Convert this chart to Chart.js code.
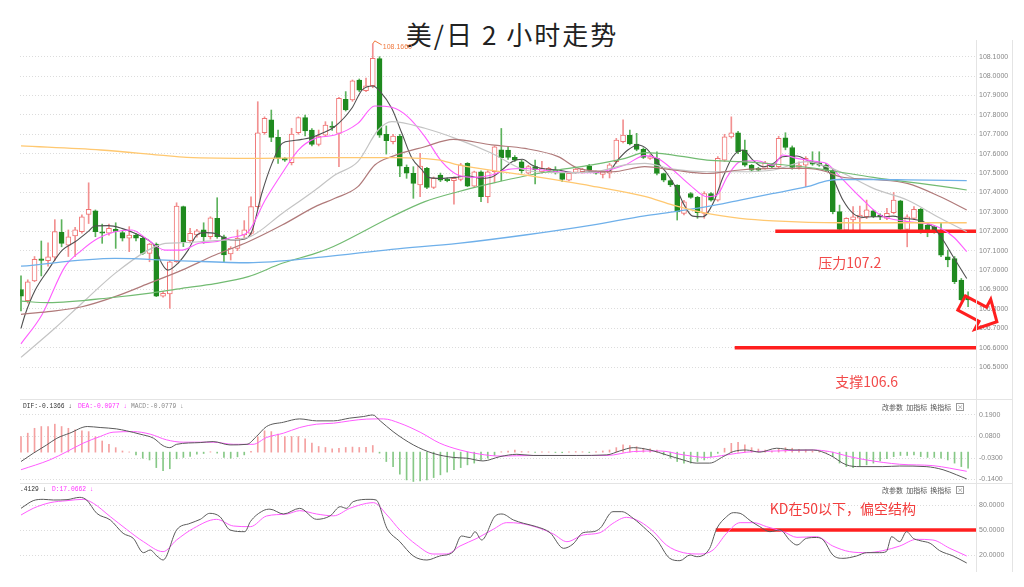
<!DOCTYPE html>
<html>
<head>
<meta charset="utf-8">
<script src="https://cdn.jsdelivr.net/npm/chart.js"></script>
<style>
body{margin:0;background:#fff;width:1024px;height:587px;overflow:hidden;position:relative;font-family:"Noto Sans CJK SC",sans-serif}
canvas{position:absolute;left:0}
#title{position:absolute;left:0;width:1024px;top:18px;text-align:center;font-size:26px;line-height:32px;color:#222;letter-spacing:2px}
.hl{position:absolute;left:20px;width:992px;border-top:1px solid #e4e4e4}
.vl{position:absolute;top:40px;height:532px;border-left:1px solid #e4e4e4}
.hd{position:absolute;font:6.3px "Liberation Mono",monospace;line-height:8px;white-space:pre}
.tool{position:absolute;font-size:7px;line-height:8px;color:#555;white-space:pre}
.box{display:inline-block;width:6px;height:6px;border:1px solid #999;font-size:6px;line-height:6px;text-align:center;color:#777;margin-left:5px;vertical-align:top}
</style>
</head>
<body>
<div id="title">美/日 2 小时走势</div>
<canvas id="main" width="1024" height="359" style="top:40px"></canvas>
<canvas id="macd" width="1024" height="84" style="top:399px"></canvas>
<canvas id="kd" width="1024" height="89" style="top:483px"></canvas>
<div class="hl" style="top:399px"></div>
<div class="hl" style="top:483px"></div>
<div class="vl" style="left:976px"></div>
<div class="vl" style="left:1012px"></div>

<div class="hd" style="left:23px;top:403px;color:#333">DIF:-0.1366 ↓</div>
<div class="hd" style="left:78px;top:403px;color:#ff33ff">DEA:-0.0977 ↓</div>
<div class="hd" style="left:131px;top:403px;color:#888">MACD:-0.0779 ↓</div>
<div class="tool" style="left:882px;top:403px">改参数  加指标  换指标<span class="box">×</span></div>

<div class="hd" style="left:20px;top:486px;color:#333">.4129 ↓</div>
<div class="hd" style="left:52px;top:486px;color:#ff33ff">D:17.0662 ↓</div>
<div class="tool" style="left:882px;top:486px">改参数  加指标  换指标<span class="box">×</span></div>

<script>
// 2-hour USD/JPY candles, one value per bar
const open = [106.900,106.842,106.944,107.055,107.048,107.066,107.195,107.129,107.176,107.198,
  107.287,107.306,107.196,107.190,107.210,107.193,107.164,107.181,107.164,107.086,
  107.134,106.866,106.877,107.043,107.327,107.152,107.181,107.207,107.172,107.267,
  107.172,107.083,107.112,107.181,107.189,107.327,107.708,107.774,107.684,107.576,
  107.554,107.708,107.786,107.722,107.648,107.696,107.740,107.705,107.880,107.877,
  107.980,107.925,107.950,108.090,107.700,107.662,107.691,107.530,107.499,107.439,
  107.524,107.426,107.490,107.469,107.461,107.468,107.550,107.433,107.507,107.378,
  107.507,107.620,107.619,107.581,107.558,107.499,107.533,107.507,107.512,107.516,
  107.502,107.464,107.504,107.507,107.536,107.507,107.493,107.499,107.559,107.662,
  107.696,107.650,107.622,107.576,107.576,107.498,107.461,107.438,107.292,107.395,
  107.375,107.292,107.395,107.361,107.567,107.687,107.708,107.619,107.541,107.525,
  107.524,107.541,107.533,107.682,107.632,107.529,107.541,107.558,107.553,107.541,
  107.515,107.301,107.206,107.258,107.268,107.275,107.306,107.283,107.267,107.296,
  107.357,107.210,107.267,107.313,107.232,107.223,107.189,107.069,107.060,106.949,
  106.859]
const high = [106.97,106.95,107.07,107.15,107.14,107.26,107.26,107.207,107.22,107.285,
  107.45,107.31,107.237,107.237,107.244,107.20,107.224,107.19,107.17,107.138,
  107.14,106.89,107.05,107.347,107.33,107.215,107.21,107.244,107.275,107.373,
  107.181,107.121,107.207,107.255,107.378,107.868,107.79,107.825,107.722,107.58,
  107.731,107.79,107.799,107.73,107.722,107.765,107.765,107.89,107.92,107.98,
  107.985,107.99,108.166,108.10,107.743,107.70,107.70,107.542,107.533,107.602,
  107.53,107.48,107.50,107.475,107.48,107.55,107.554,107.51,107.512,107.512,
  107.64,107.73,107.636,107.59,107.567,107.54,107.567,107.56,107.53,107.533,
  107.505,107.50,107.53,107.525,107.545,107.51,107.51,107.55,107.679,107.774,
  107.722,107.705,107.63,107.595,107.61,107.50,107.465,107.44,107.36,107.40,
  107.38,107.404,107.40,107.585,107.70,107.79,107.715,107.67,107.545,107.53,
  107.56,107.545,107.69,107.708,107.64,107.558,107.585,107.61,107.61,107.55,
  107.52,107.335,107.27,107.327,107.33,107.361,107.31,107.29,107.318,107.40,
  107.36,107.285,107.327,107.318,107.24,107.23,107.241,107.103,107.07,106.957,
  106.888]
const low = [106.79,106.83,106.94,106.97,107.02,107.05,107.12,107.07,107.07,107.19,
  107.24,107.172,107.138,107.18,107.112,107.15,107.095,107.15,107.08,107.043,
  106.863,106.86,106.803,107.04,107.121,107.14,107.17,107.138,107.16,107.164,
  107.043,107.052,107.10,107.16,107.18,107.318,107.70,107.662,107.55,107.56,
  107.542,107.70,107.691,107.64,107.64,107.69,107.72,107.533,107.82,107.87,
  107.92,107.92,107.94,107.684,107.598,107.65,107.481,107.473,107.37,107.378,
  107.42,107.42,107.456,107.455,107.34,107.46,107.43,107.43,107.353,107.347,
  107.45,107.46,107.57,107.56,107.50,107.495,107.444,107.50,107.505,107.495,
  107.456,107.46,107.50,107.50,107.51,107.495,107.475,107.475,107.55,107.655,
  107.645,107.615,107.575,107.57,107.49,107.455,107.43,107.258,107.285,107.37,
  107.267,107.267,107.355,107.355,107.56,107.68,107.60,107.535,107.51,107.51,
  107.52,107.528,107.528,107.62,107.52,107.52,107.43,107.54,107.535,107.51,
  107.29,107.20,107.20,107.20,107.20,107.265,107.27,107.26,107.26,107.29,
  107.20,107.12,107.26,107.19,107.172,107.19,107.069,107.017,106.93,106.84,
  106.811]
const close = [106.866,106.94,107.055,107.05,107.069,107.198,107.138,107.172,107.207,107.275,
  107.313,107.198,107.19,107.215,107.20,107.164,107.181,107.164,107.086,107.134,
  106.866,106.88,107.043,107.33,107.146,107.189,107.203,107.172,107.27,107.172,
  107.078,107.112,107.164,107.207,107.327,107.708,107.782,107.684,107.576,107.567,
  107.701,107.786,107.717,107.648,107.691,107.748,107.735,107.885,107.825,107.976,
  107.928,107.95,108.091,107.696,107.667,107.691,107.536,107.499,107.447,107.536,
  107.426,107.473,107.464,107.461,107.473,107.542,107.433,107.507,107.378,107.507,
  107.636,107.58,107.581,107.567,107.512,107.533,107.516,107.525,107.524,107.502,
  107.468,107.499,107.521,107.519,107.516,107.499,107.507,107.542,107.67,107.696,
  107.65,107.622,107.581,107.585,107.498,107.464,107.439,107.30,107.352,107.375,
  107.296,107.395,107.361,107.576,107.687,107.708,107.61,107.541,107.515,107.515,
  107.553,107.533,107.679,107.632,107.529,107.541,107.576,107.546,107.541,107.515,
  107.301,107.21,107.267,107.275,107.283,107.31,107.275,107.275,107.292,107.361,
  107.21,107.275,107.313,107.198,107.198,107.203,107.077,107.052,106.94,106.846,
  106.846]

// moving averages as [bar, price]
const ma5 = [[0,106.70],[0.6,106.77],[2.1,106.897],[4,107.0],[6.1,107.103],[8,107.146],[9.9,107.198],[10.9,107.227],[12.9,107.229],[14.9,107.215],[16.9,107.189],[18.8,107.155],[19.8,107.121],[20.8,107.035],[21.7,107.0],[23.2,107.035],[24.7,107.103],[26,107.181],[27.2,107.193],[28.7,107.189],[29.7,107.172],[31.2,107.155],[32.7,107.158],[34.1,107.198],[35.6,107.396],[37.1,107.55],[38.6,107.653],[40.1,107.667],[41.5,107.674],[43,107.684],[44.5,107.705],[46.4,107.74],[48.9,107.834],[50.4,107.928],[52,107.949],[53.1,107.92],[54.8,107.834],[56.3,107.705],[57.8,107.576],[59.3,107.516],[60.2,107.478],[62.2,107.473],[64.2,107.478],[66.1,107.485],[68.1,107.473],[69.6,107.48],[71.1,107.516],[72.6,107.559],[74.1,107.571],[75.5,107.542],[77,107.524],[79.4,107.516],[81.9,107.502],[84.4,107.507],[86.8,107.507],[88.2,107.567],[89.7,107.619],[91.2,107.645],[92.5,107.625],[94,107.559],[95.5,107.498],[97,107.413],[97.9,107.344],[99.3,107.278],[100.8,107.275],[102.3,107.344],[103.8,107.481],[105.2,107.584],[106.7,107.619],[108.2,107.567],[109.7,107.533],[111.2,107.55],[112.6,107.584],[114.7,107.588],[116.6,107.559],[118.4,107.541],[119.9,107.481],[121.5,107.361],[123,107.292],[124.5,107.272],[125.9,107.275],[127.4,107.275],[128.9,107.278],[130.4,107.267],[131.9,107.262],[133.3,107.25],[134.8,107.223],[136.3,107.155],[137.8,107.069],[139.8,106.957]]
const ma10 = [[0,106.62],[3.1,106.77],[6.5,107.018],[9,107.103],[11.4,107.164],[13.9,107.198],[16.4,107.207],[18.8,107.155],[21.3,107.103],[23.8,107.103],[26.3,107.138],[28.7,107.146],[31.2,107.169],[33.6,107.198],[36.1,107.361],[38.6,107.499],[41,107.619],[43.5,107.679],[46.4,107.696],[49.8,107.756],[52.3,107.846],[54.8,107.839],[57.2,107.79],[59.7,107.688],[62.2,107.559],[64.6,107.49],[67.1,107.478],[69.6,107.49],[72,107.519],[74.5,107.524],[79.4,107.507],[84.4,107.502],[89.3,107.542],[92.2,107.59],[94.1,107.576],[96.4,107.516],[98.9,107.438],[101.4,107.378],[102.9,107.387],[104.4,107.481],[106.3,107.559],[108.8,107.564],[111.2,107.541],[112.6,107.593],[114.7,107.576],[117.7,107.559],[119.1,107.55],[121.1,107.481],[124,107.378],[127,107.284],[131,107.25],[134.8,107.232],[137.8,107.172],[139.8,107.095]]
const ma20 = [[0,106.55],[5,106.70],[9,106.829],[13.9,106.983],[18.8,107.103],[21.3,107.138],[23.8,107.141],[28.7,107.152],[33.6,107.169],[38.6,107.292],[43.5,107.413],[46.4,107.49],[49.8,107.559],[52.8,107.722],[54.8,107.765],[59.7,107.731],[64.6,107.674],[69.6,107.602],[74.5,107.516],[79.4,107.502],[84.4,107.505],[89.3,107.542],[92.2,107.55],[96.4,107.52],[101.4,107.507],[106.3,107.507],[111.2,107.516],[116.2,107.559],[119.1,107.533],[121.1,107.507],[126,107.421],[131,107.361],[135.9,107.267],[139.8,107.198]]
const ma30 = [[0,106.772],[4,106.786],[9,106.811],[13.9,106.863],[18.8,106.93],[23.8,107.0],[28.7,107.078],[33.6,107.146],[38.6,107.232],[43.5,107.327],[46.4,107.37],[49.8,107.43],[52.3,107.542],[54.8,107.585],[59.7,107.636],[63.9,107.674],[69.6,107.645],[74.5,107.627],[79.4,107.585],[82.4,107.524],[87.4,107.507],[92.2,107.533],[96.4,107.516],[101.4,107.498],[106.3,107.516],[111.2,107.524],[116.2,107.524],[119.1,107.507],[121.1,107.481],[126,107.467],[131,107.447],[135.9,107.378],[139.8,107.31]]
const ma60 = [[0,106.84],[4,106.832],[13.9,106.86],[18.8,106.88],[23.8,106.906],[28.7,106.93],[33.6,106.966],[38.6,107.035],[43.5,107.086],[45.4,107.11],[47.3,107.14],[54.8,107.275],[59.7,107.353],[64.6,107.404],[69.6,107.447],[74.5,107.485],[79.4,107.516],[84.4,107.542],[89.3,107.576],[92.2,107.605],[96.4,107.593],[101.4,107.567],[106.3,107.559],[111.2,107.547],[116.2,107.53],[119.1,107.516],[126,107.478],[131,107.455],[135.9,107.433],[139.8,107.413]]
const ma120 = [[0,107.02],[13.9,107.06],[23.8,107.048],[33.6,107.038],[44.4,107.067],[54.8,107.107],[64.6,107.138],[74.5,107.181],[84.4,107.232],[92.2,107.28],[96.4,107.30],[101.4,107.327],[106.3,107.361],[111.2,107.395],[116.2,107.43],[119.1,107.46],[121.1,107.467],[126,107.467],[131,107.465],[139.8,107.461]]
const ma250 = [[0,107.64],[11.8,107.619],[20.5,107.593],[24.5,107.581],[35.3,107.576],[45,107.58],[55,107.58],[61.9,107.567],[64.6,107.542],[74.5,107.49],[84.4,107.433],[92.2,107.38],[96.4,107.335],[101.4,107.292],[106.3,107.267],[111.2,107.254],[121.1,107.244],[139.8,107.244]]

const resistance = 107.2
const support = 106.6
const resistanceLine = [[111.5, resistance], [141.2, resistance]]
const supportLine = [[105.5, support], [141.2, support]]
const priceTicks = [106.5,106.6,106.7,106.8,106.9,107.0,107.1,107.2,107.3,107.4,107.5,107.6,107.7,107.8,107.9,108.0,108.1]

// MACD histogram, one per bar, and the DIF / DEA lines as [bar, value]
const macdHist = [0.079,0.097,0.122,0.131,0.131,0.143,0.131,0.122,0.114,0.109,
  0.105,0.079,0.057,0.040,0.023,0.006,0.001,-0.014,-0.031,-0.040,
  -0.079,-0.095,-0.085,-0.034,-0.027,-0.022,-0.010,-0.007,0.002,-0.005,
  -0.027,-0.031,-0.024,-0.014,0.004,0.079,0.109,0.105,0.092,0.080,
  0.080,0.080,0.068,0.046,0.029,0.024,0.017,0.020,0.024,0.026,
  0.024,0.024,0.034,-0.005,-0.048,-0.074,-0.113,-0.142,-0.150,-0.147,
  -0.142,-0.130,-0.116,-0.102,-0.090,-0.079,-0.065,-0.056,-0.040,-0.031,
  -0.017,0.002,0.006,0.011,0.003,0.002,-0.002,0.002,0.001,-0.002,
  -0.003,0.002,0.003,0.002,-0.002,0.003,0.006,0.011,0.023,0.037,
  0.034,0.028,0.020,0.017,0.011,-0.014,-0.031,-0.048,-0.056,-0.056,
  -0.048,-0.040,-0.023,-0.006,0.020,0.045,0.050,0.037,0.023,0.016,
  0.011,0.006,0.016,0.023,0.020,0.015,0.011,0.006,0.003,0.001,
  -0.023,-0.056,-0.074,-0.079,-0.074,-0.065,-0.056,-0.045,-0.034,-0.023,
  -0.017,-0.017,-0.014,-0.023,-0.027,-0.027,-0.031,-0.040,-0.056,-0.074,
  -0.082]
const dif = [[0,-0.048],[1.8,-0.006],[3.8,0.037],[5.3,0.071],[7.2,0.097],[9.8,0.131],[11.7,0.126],[14.1,0.119],[15.6,0.109],[17.6,0.092],[19.6,0.071],[21,0.033],[22,0.023],[23,0.040],[26.5,0.049],[28.4,0.054],[30.9,0.037],[33.4,0.040],[34.8,0.080],[36.3,0.131],[38.8,0.153],[41.2,0.170],[43.7,0.160],[46.2,0.160],[48.6,0.174],[50.6,0.182],[52,0.190],[53.1,0.160],[55,0.105],[58,0.037],[60.9,-0.006],[63.9,-0.027],[65.9,-0.031],[68.3,-0.045],[70.8,-0.023],[73.3,-0.011],[75.7,-0.017],[82.1,-0.017],[86.6,-0.014],[88.5,0.006],[90.5,0.023],[93,0.011],[95.4,-0.014],[97.9,-0.040],[99.8,-0.056],[101.8,-0.056],[103.8,-0.023],[105.3,0.003],[107.2,0.011],[109.2,0.0],[111.7,0.020],[114.1,0.011],[117.1,0.011],[119.5,-0.014],[122,-0.065],[124,-0.074],[127.4,-0.074],[129.9,-0.071],[133.8,-0.074],[136.3,-0.090],[138.3,-0.116],[139.8,-0.137]]
const dea = [[0,-0.090],[4.3,-0.039],[6.8,0.003],[9.2,0.046],[11.7,0.080],[13.6,0.102],[16.6,0.105],[19.1,0.092],[21.5,0.063],[24,0.051],[28.4,0.051],[31.4,0.040],[34.3,0.040],[36.3,0.075],[38.8,0.097],[41.2,0.126],[43.7,0.143],[46.2,0.148],[48.6,0.160],[51.1,0.169],[53.6,0.170],[56,0.148],[59,0.102],[61.9,0.046],[64.9,0.011],[67.8,-0.010],[70.8,-0.020],[75.7,-0.017],[86.6,-0.017],[90.5,0.003],[94.5,0.006],[97.9,-0.014],[101.3,-0.027],[104.3,-0.014],[107.2,0.0],[111.7,0.006],[117.1,0.011],[119.5,0.003],[122.5,-0.023],[125,-0.040],[129.9,-0.062],[134.8,-0.069],[137.3,-0.082],[139.8,-0.098]]
const macdTicks = [-0.14, -0.03, 0.08, 0.19]

// KD lines as [bar, value]
const kLine = [[0,76.0],[1.8,85.2],[3.3,86.8],[4.8,86.0],[6.8,86.4],[8.7,89.2],[9.7,86.0],[11.2,70.0],[13.2,62.0],[15.1,46.0],[16.6,40.0],[18.1,22.8],[19.1,26.0],[20.1,18.8],[21,14.0],[23,50.0],[25,58.0],[26.5,62.8],[27.9,70.0],[29.4,66.0],[30.9,50.0],[33.1,48.0],[33.9,60.0],[35.8,73.2],[36.8,75.0],[38.8,69.2],[41.2,76.0],[43.7,62.8],[45.7,67.0],[47.2,78.0],[48.1,76.0],[49.1,84.0],[51.6,86.8],[52.5,86.0],[54.1,52.0],[56,36.0],[58,18.8],[60,14.0],[61.9,18.8],[63.9,24.0],[65.1,42.8],[66.4,41.0],[67.1,48.0],[68.1,38.0],[70.1,66.8],[71.1,69.2],[72.8,62.0],[74.3,58.0],[76.2,54.0],[78.2,46.8],[80.2,28.0],[81.6,33.2],[83.1,46.8],[84.6,48.0],[85.6,52.0],[87.5,72.0],[88.8,72.0],[90.5,64.0],[92.5,50.0],[94,38.0],[95.9,16.0],[97.4,13.2],[98.9,20.0],[99.9,18.0],[101.8,28.0],[102.8,50.8],[104.3,66.0],[105.3,70.8],[106.3,70.0],[107.8,61.2],[109.2,54.0],[110.7,48.0],[112.2,50.0],[113.7,37.2],[114.7,32.0],[116.1,40.0],[117.6,41.0],[118.6,38.0],[120,20.0],[121.5,16.0],[123.5,18.8],[125,22.8],[126.9,22.8],[127.9,24.0],[128.7,42.0],[129.9,36.0],[130.9,48.0],[131.9,40.0],[132.9,37.2],[134.4,34.0],[135.8,25.2],[137.8,18.8],[139.8,10.4]]
const dLine = [[0,68.0],[1.8,76.0],[4.3,82.8],[6.8,85.2],[9.2,86.8],[10.7,82.0],[13.2,66.0],[15.6,50.8],[18.1,36.0],[21,24.0],[23,38.0],[25.5,52.0],[28.9,62.8],[31.4,54.8],[33.9,54.0],[36.3,66.8],[39.3,69.2],[41.2,73.2],[43.7,69.2],[46.2,67.0],[48.6,76.0],[51.1,82.0],[52.1,82.8],[54.1,68.0],[56,50.0],[58.5,32.0],[60.9,21.2],[62.9,21.2],[64.9,30.8],[67.4,40.0],[69.8,50.8],[71.8,58.8],[73.8,58.0],[76.7,52.0],[78.7,45.2],[80.7,36.0],[83.1,44.0],[85.6,46.8],[87.5,58.0],[89.5,65.2],[91.5,60.0],[93.5,48.0],[95.4,32.0],[97.9,22.8],[100.4,21.2],[102.3,26.0],[104.3,46.0],[106.3,58.8],[108.3,58.8],[110.2,54.0],[112.7,48.0],[114.7,41.2],[117.6,42.0],[120,30.8],[122.5,24.0],[125,22.8],[127.4,25.2],[129.9,30.8],[132.4,38.8],[134.8,38.0],[137.3,28.0],[139.8,18.8]]
const kdLevel = 50
const kdLine = [[102.7, kdLevel], [141.2, kdLevel]]
const kdTicks = [20, 50, 80]

const UP = '#f07474', DOWN = '#1f8a1f'
const pts = a => a.map(([x, y]) => ({ x, y }))
const isUp = i => close[i] > open[i]

const xAxis = { type: 'linear', display: false, min: -0.148, max: 141.17, offset: false }
function rightAxis(min, max, ticks) {
  return {
    position: 'right', min, max, beginAtZero: false,
    afterBuildTicks: s => { s.ticks = ticks.map(v => ({ value: v })) },
    afterFit: s => { s.width = 48; s.paddingTop = 0; s.paddingBottom = 0 },
    ticks: { padding: 3, color: '#888', font: { family: 'Liberation Sans', size: 7 }, callback: v => v.toFixed(4) },
    grid: { color: '#dcdcdc', drawTicks: false },
    border: { display: false, dash: [1, 2] }
  }
}
function line(data, color, width) {
  return { type: 'line', data: pts(data), borderColor: color, borderWidth: width || 1, pointRadius: 0, cubicInterpolationMode: 'monotone', order: 0 }
}
const common = {
  responsive: false, animation: false, devicePixelRatio: 1,
  layout: { padding: { left: 20, right: 0, top: 0, bottom: 0 } },
  plugins: { legend: { display: false }, tooltip: { enabled: false } }
}

const mainNotes = {
  id: 'mainNotes',
  afterDraw(chart) {
    const { ctx, scales: { x, y } } = chart
    ctx.save()
    ctx.font = '14px "Noto Sans CJK SC"'
    ctx.fillStyle = '#f24a4a'
    ctx.textAlign = 'center'
    ctx.textBaseline = 'middle'
    ctx.fillText('压力' + resistance, x.getPixelForValue(122.5), y.getPixelForValue(resistance) + 31)
    ctx.fillText('支撑' + support, x.getPixelForValue(125), y.getPixelForValue(support) + 34)

    // hollow arrow pointing down-right from the last bar
    const last = close.length - 1
    const cx = x.getPixelForValue(last) - 6.5, cy = y.getPixelForValue(close[last]) + 3
    const a = 28 * Math.PI / 180
    const shape = [[0, -8], [24, -8], [24, -17], [40, 0], [24, 17], [24, 8], [0, 8]]
    ctx.beginPath()
    shape.forEach(([u, v], i) => {
      const px = cx + u * Math.cos(a) - v * Math.sin(a)
      const py = cy + u * Math.sin(a) + v * Math.cos(a)
      i ? ctx.lineTo(px, py) : ctx.moveTo(px, py)
    })
    ctx.closePath()
    ctx.lineWidth = 3
    ctx.strokeStyle = '#ff1f1f'
    ctx.stroke()

    // peak marker
    const peak = high.indexOf(Math.max(...high))
    const hx = x.getPixelForValue(peak), hy = y.getPixelForValue(high[peak])
    ctx.strokeStyle = '#f07a40'
    ctx.lineWidth = 1
    ctx.beginPath()
    ctx.moveTo(hx, hy)
    ctx.lineTo(hx + 2, hy - 3)
    ctx.lineTo(hx + 9, hy + 1)
    ctx.stroke()
    ctx.font = '7px "Liberation Sans"'
    ctx.fillStyle = '#f07a40'
    ctx.textAlign = 'left'
    ctx.fillText(high[peak].toFixed(4), hx + 10, hy + 3)
    ctx.restore()
  }
}

new Chart(document.getElementById('main'), {
  type: 'bar',
  data: {
    datasets: [
      {
        data: close.map((c, i) => ({ x: i, y: [low[i], high[i]] })),
        backgroundColor: close.map((c, i) => isUp(i) ? '#f29090' : '#5cb25c'),
        barThickness: 1, grouped: false, order: 2
      },
      {
        data: close.map((c, i) => ({ x: i, y: [open[i], c] })),
        backgroundColor: close.map((c, i) => isUp(i) ? '#fff' : DOWN),
        borderColor: close.map((c, i) => isUp(i) ? UP : DOWN),
        borderWidth: 1, borderSkipped: false, barThickness: 5, minBarLength: 1.5, grouped: false, order: 1
      },
      line(ma250, '#ffc870', 1.3),
      line(ma120, '#6fb0ea', 1.3),
      line(ma60, '#72bb72', 1.2),
      line(ma30, '#b07a7a', 1.2),
      line(ma20, '#c4c4c4', 1.2),
      line(ma10, '#ff5cff', 1.1),
      line(ma5, '#505050', 1.1),
      line(resistanceLine, '#ff1f1f', 3.5),
      line(supportLine, '#ff1f1f', 3.5)
    ]
  },
  options: { ...common, scales: { x: xAxis, y: rightAxis(106.3356, 108.186, priceTicks) } },
  plugins: [mainNotes]
})

new Chart(document.getElementById('macd'), {
  type: 'bar',
  data: {
    datasets: [
      {
        data: macdHist.map((v, i) => ({ x: i, y: v })),
        backgroundColor: macdHist.map(v => v >= 0 ? '#f4a0a0' : '#86c886'),
        barThickness: 1, order: 2
      },
      line(dif, '#5a5a5a'),
      line(dea, '#ff5cff')
    ]
  },
  options: { ...common, scales: { x: xAxis, y: rightAxis(-0.1578, 0.2718, macdTicks) } }
})

const kdNote = {
  id: 'kdNote',
  afterDraw(chart) {
    const { ctx, scales: { x, y } } = chart
    ctx.save()
    ctx.font = '14px "Noto Sans CJK SC"'
    ctx.fillStyle = '#f23c3c'
    ctx.textAlign = 'center'
    ctx.textBaseline = 'middle'
    ctx.fillText('KD在' + kdLevel + '以下，偏空结构', x.getPixelForValue(121.5), y.getPixelForValue(kdLevel) - 21)
    ctx.restore()
  }
}

new Chart(document.getElementById('kd'), {
  type: 'line',
  data: {
    datasets: [
      line(kLine, '#5a5a5a'),
      line(dLine, '#ff5cff'),
      line(kdLine, '#ff1f1f', 3.5)
    ]
  },
  options: { ...common, scales: { x: xAxis, y: rightAxis(-0.4, 106.4, kdTicks) } },
  plugins: [kdNote]
})
</script>
</body>
</html>
